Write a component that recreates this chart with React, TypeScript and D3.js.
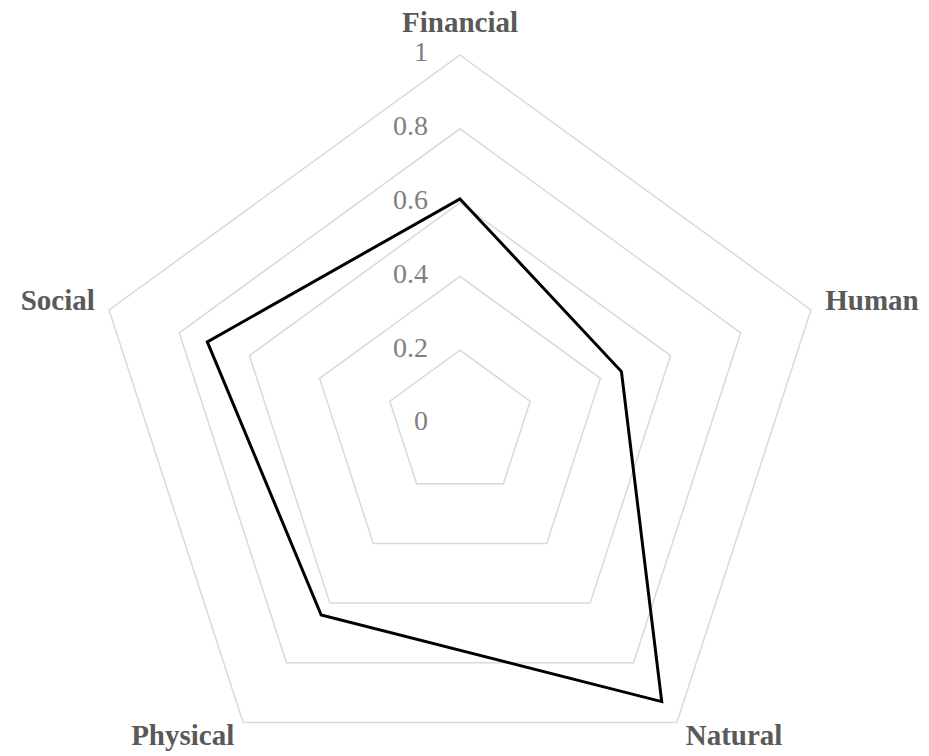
import * as React from "react";
import { scaleLinear, lineRadial, curveLinearClosed, range } from "d3";

const categories = ["Financial", "Human", "Natural", "Physical", "Social"];
const values = [0.61, 0.46, 0.93, 0.64, 0.72];
const ticks = [0, 0.2, 0.4, 0.6, 0.8, 1];
const tickLabels = ["0", "0.2", "0.4", "0.6", "0.8", "1"];

const width = 929;
const height = 756;
const cx = 460;
const cy = 424;
const R = 369;
const font = "'Liberation Serif', 'Times New Roman', serif";

export default function App() {
  const r = scaleLinear().domain([0, 1]).range([0, R]);
  const angle = (i: number) => (i * 2 * Math.PI) / categories.length;

  const radial = lineRadial<number>()
    .angle((_, i) => angle(i))
    .radius((d) => r(d))
    .curve(curveLinearClosed);

  const rings = ticks.filter((t) => t > 0);

  const labelPos = (i: number) => {
    const a = angle(i);
    const s = Math.sin(a);
    const c = Math.cos(a);
    if (i === 0) {
      return { x: cx, y: cy - R - 23, anchor: "middle", baseline: "auto" };
    }
    const pad = 15;
    return {
      x: cx + (R + pad) * s,
      y: cy - (R + pad) * c + (Math.abs(c) < 0.5 ? -2 : 4),
      anchor: s > 0 ? "start" : "end",
      baseline: "middle",
    };
  };

  return (
    <div style={{ position: "fixed", left: 0, top: 0 }}>
      <svg width={width} height={height} style={{ display: "block", background: "#fff" }}>
        <g transform={`translate(${cx},${cy})`}>
          {rings.map((t) => (
            <path
              key={t}
              d={radial(range(categories.length).map(() => t)) || ""}
              fill="none"
              stroke="#d9d9d9"
              strokeWidth={1.5}
            />
          ))}
          <path
            d={radial(values) || ""}
            fill="none"
            stroke="#000"
            strokeWidth={3}
            strokeLinejoin="miter"
          />
        </g>
        {ticks.map((t, i) => (
          <text
            key={t}
            x={cx - 32}
            y={cy - r(t)}
            textAnchor="end"
            dominantBaseline="middle"
            fontFamily={font}
            fontSize={28}
            fill="#7f7f7f"
          >
            {tickLabels[i]}
          </text>
        ))}
        {categories.map((c, i) => {
          const p = labelPos(i);
          return (
            <text
              key={c}
              x={p.x}
              y={p.y}
              textAnchor={p.anchor as any}
              dominantBaseline={p.baseline as any}
              fontFamily={font}
              fontSize={29}
              fontWeight="bold"
              fill="#595959"
            >
              {c}
            </text>
          );
        })}
      </svg>
    </div>
  );
}
